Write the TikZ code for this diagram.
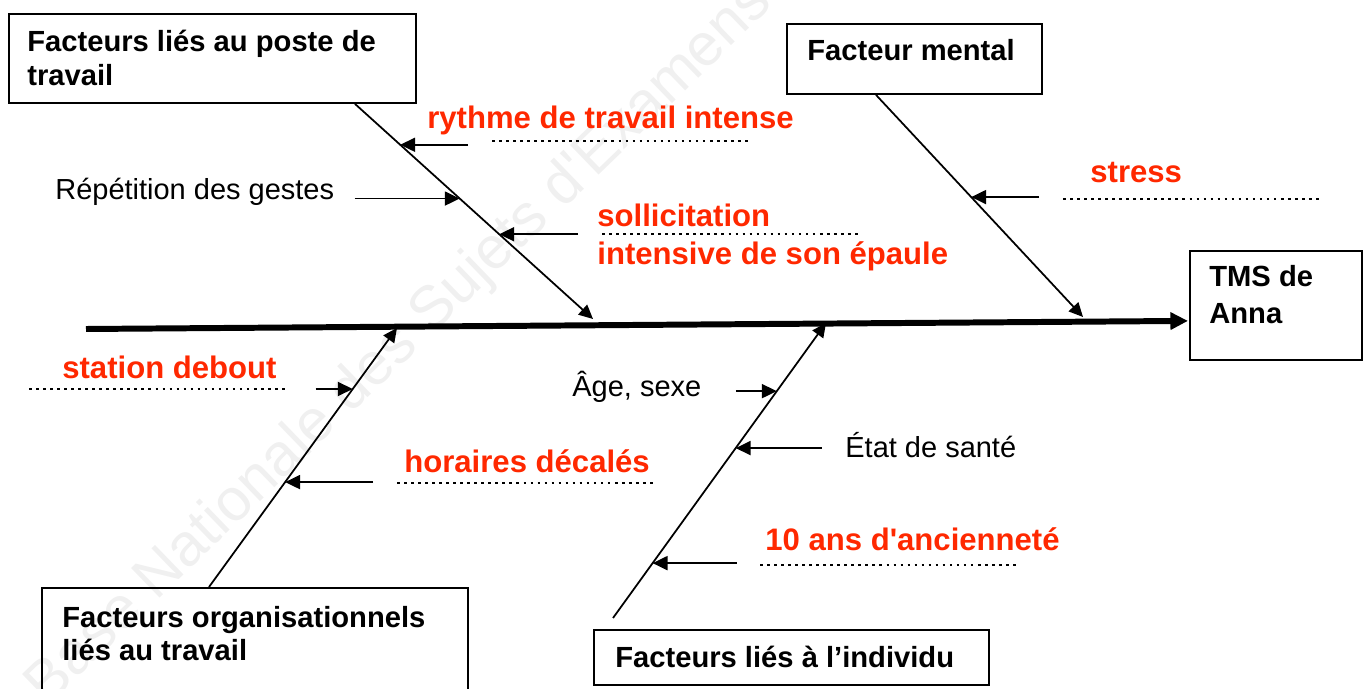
\documentclass[tikz,border=0pt]{standalone}
\usepackage{fontspec}
\newfontfamily\arial{Liberation Sans}
\usetikzlibrary{arrows.meta,calc}
\definecolor{ered}{RGB}{255,40,0}
\begin{document}
\begin{tikzpicture}[x=0.02cm,y=-0.02cm,font=\arial,
  box/.style={draw,line width=1.1pt,inner sep=0pt,anchor=north west},
  hd/.style={anchor=base west,inner sep=0pt,font=\arial\bfseries\fontsize{16.6}{19}\selectfont},
  rd/.style={anchor=base west,inner sep=0pt,text=ered,font=\arial\bfseries\fontsize{17.7}{20}\selectfont},
  nt/.style={anchor=base west,inner sep=0pt,font=\arial\fontsize{16.5}{19}\selectfont},
  branch/.style={line width=1pt,-{Triangle[length=8pt,width=7.5pt]}},
  sub/.style={line width=1pt,-{Triangle[length=8.5pt,width=8pt]}},
  spine/.style={line width=3.4pt,-{Triangle[length=10pt,width=9.5pt]}},
  dots/.style={line width=1.5pt,dash pattern=on 1.5pt off 2.5pt},
  wmark/.style={rotate=44,text=black!6,inner sep=0pt,font=\arial\fontsize{34}{40}\selectfont}
]
\useasboundingbox (0,0) rectangle (1363,689);

% watermark
\node[wmark] (wm) at (400,345) {Base Nationale des Sujets d'Examens};

% boxes
\node[box,minimum width=8.14cm,minimum height=1.78cm] (A) at (8,13) {};
\node[box,minimum width=5.10cm,minimum height=1.40cm] (B) at (786,23) {};
\node[box,minimum width=3.44cm,minimum height=2.18cm] (T) at (1189,250) {};
\node[box,minimum width=8.52cm,minimum height=2.30cm] (C) at (41,587) {};
\node[box,minimum width=7.90cm,minimum height=1.10cm] (D) at (593,629) {};

% box texts
\node[hd] (tA1) at (27,52) {Facteurs liés au poste de};
\node[hd] (tA2) at (27,86) {travail};
\node[hd] (tB) at (807,61) {Facteur mental};
\node[hd] (tT1) at (1209,287) {TMS de};
\node[hd] (tT2) at (1209,323) {Anna};
\node[hd] (tC1) at (62,627) {Facteurs organisationnels};
\node[hd] (tC2) at (62,660) {liés au travail};
\node[hd] (tD) at (615,667) {Facteurs liés à l’individu};

% spine
\coordinate (s0) at (86,329);
\coordinate (s1) at ($(T.south west)+(-1,-40)$);
\draw[spine] (s0) -- (s1);

% branch end points
\coordinate (aS) at ($(A.south west)+(347,0)$);
\coordinate (bS) at ($(B.south west)+(90,0)$);
\coordinate (cS) at ($(C.north west)+(168,0)$);
\coordinate (dS) at ($(D.north west)+(20,-11)$);
\coordinate (pA) at (593,319);
\coordinate (pB) at (1083,317);
\coordinate (pC) at (397,328);
\coordinate (pD) at (826,323);

\draw[branch] (aS) -- (pA);
\draw[branch] (bS) -- (pB);
\draw[branch] (cS) -- (pC);
\draw[branch] (dS) -- (pD);

% points on branches
\path (aS) -- (pA) coordinate[pos=0.19] (a1) coordinate[pos=0.44] (a2) coordinate[pos=0.606] (a3);
\path (bS) -- (pB) coordinate[pos=0.46] (b1);
\path (cS) -- (pC) coordinate[pos=0.7645] (c1) coordinate[pos=0.405] (c2);
\path (dS) -- (pD) coordinate[pos=0.769] (d1) coordinate[pos=0.576] (d2) coordinate[pos=0.186] (d3);

% sub arrows
\draw[sub] ($(a1)+(68,0)$) -- (a1);
\draw[sub] ($(a2)+(-105,0)$) -- (a2);
\draw[sub] ($(a3)+(79,0)$) -- (a3);
\draw[sub] ($(b1)+(68,0)$) -- (b1);
\draw[sub] ($(c1)+(-37,0)$) -- (c1);
\draw[sub] ($(c2)+(88,0)$) -- (c2);
\draw[sub] ($(d1)+(-41,0)$) -- (d1);
\draw[sub] ($(d2)+(86,0)$) -- (d2);
\draw[sub] ($(d3)+(84,0)$) -- (d3);

% dotted answer lines
\draw[dots] (492,141) -- (750,141);
\draw[dots] (602,234) -- (862,234);
\draw[dots] (1063,199) -- (1321,199);
\draw[dots] (29,389) -- (287,389);
\draw[dots] (397,483) -- (654,483);
\draw[dots] (760,565) -- (1020,565);

% cause labels
\node[rd] (r1) at (427,129) {rythme de travail intense};
\node[nt] (n1) at (55,200) {Répétition des gestes};
\node[rd] (r2) at (597,227) {sollicitation};
\node[rd] (r3) at (597,265) {intensive de son épaule};
\node[rd] (r4) at (1090,183) {stress};
\node[rd] (r5) at (62,378) {station debout};
\node[rd] (r6) at (404,472) {horaires décalés};
\node[nt] (n2) at (572,397) {Âge, sexe};
\node[nt] (n3) at (845,457) {État de santé};
\node[rd] (r7) at (765,550) {10 ans d'ancienneté};
\end{tikzpicture}
\end{document}
